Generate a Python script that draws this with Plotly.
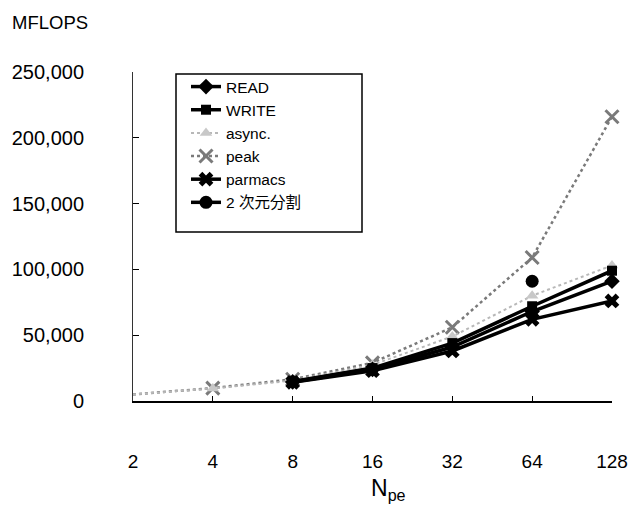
import plotly.graph_objects as go

n_pe = [2, 4, 8, 16, 32, 64, 128]
n_pe_partial = [8, 16, 32, 64, 128]

read_vals = [14500, 24000, 41000, 68000, 91000]
write_vals = [14800, 25000, 44000, 72000, 99000]
async_vals = [5000, 9500, 15500, 27500, 49000, 80000, 103000]
peak_vals = [5000, 9800, 16500, 29000, 56000, 109000, 216000]
parmacs_vals = [14200, 23000, 38000, 62000, 76000]
split2d_x = [64]
split2d_vals = [91000]

y_ticks = [0, 50000, 100000, 150000, 200000, 250000]

fig = go.Figure()

fig.add_trace(go.Scatter(
    x=n_pe, y=peak_vals, name="peak", mode="lines+markers",
    line=dict(color="#7a7a7a", width=2.5, dash="dot"),
    marker=dict(symbol="x-thin-open", size=13, line=dict(color="#6a6a6a", width=3)),
    cliponaxis=False))
fig.add_trace(go.Scatter(
    x=n_pe, y=async_vals, name="async.", mode="lines+markers",
    line=dict(color="#b8b8b8", width=2, dash="dot"),
    marker=dict(symbol="triangle-up", size=11, color="#c8c8c8"),
    cliponaxis=False))
fig.add_trace(go.Scatter(
    x=n_pe_partial, y=read_vals, name="READ", mode="lines+markers",
    line=dict(color="black", width=3.5),
    marker=dict(symbol="diamond", size=12, color="black"),
    cliponaxis=False))
fig.add_trace(go.Scatter(
    x=n_pe_partial, y=write_vals, name="WRITE", mode="lines+markers",
    line=dict(color="black", width=3.5),
    marker=dict(symbol="square", size=10, color="black"),
    cliponaxis=False))
fig.add_trace(go.Scatter(
    x=n_pe_partial, y=parmacs_vals, name="parmacs", mode="lines+markers",
    line=dict(color="black", width=3.5),
    marker=dict(symbol="x", size=13, color="black"),
    cliponaxis=False))
fig.add_trace(go.Scatter(
    x=split2d_x, y=split2d_vals, name="2 次元分割", mode="lines+markers",
    line=dict(color="black", width=3.5),
    marker=dict(symbol="circle", size=13, color="black"),
    cliponaxis=False))

order = ["READ", "WRITE", "async.", "peak", "parmacs", "2 次元分割"]
for tr in fig.data:
    tr.legendrank = order.index(tr.name) + 1

font_main = "Liberation Sans, Arial, Noto Sans CJK JP, sans-serif"

# page body has an 8px margin: figure is 621x502, offset by 8px (fits 637x518)
W, H = 621, 502
L = 133 - 8
T = 72 - 8
R = W - (612 - 8)
B = H - (401 - 8)
pw = W - L - R
ph = H - T - B


def px(xv):
    return (xv - 8 - L) / pw


def py(yv):
    return (H - B - (yv - 8)) / ph


fig.update_layout(
    width=W, height=H,
    margin=dict(l=L, r=R, t=T, b=B, autoexpand=False),
    paper_bgcolor="white", plot_bgcolor="white",
    font=dict(family=font_main, size=20, color="black"),
    showlegend=True,
    legend=dict(
        x=px(186), y=py(70), xanchor="left", yanchor="top",
        bgcolor="rgba(0,0,0,0)", borderwidth=0,
        font=dict(family="Liberation Sans, Noto Sans CJK JP, sans-serif", size=15.5),
        tracegroupgap=0, itemwidth=30,
    ),
    xaxis=dict(
        type="log", tickvals=n_pe, ticktext=[str(v) for v in n_pe],
        range=[0.30103, 2.1073], automargin=False,
        showline=True, linecolor="black", linewidth=1.5,
        ticks="inside", ticklen=5, tickcolor="black",
        showgrid=False, zeroline=False,
        tickfont=dict(size=19),
        ticklabelstandoff=42, ticklabeloverflow="allow",
    ),
    yaxis=dict(
        range=[0, 250000], tickvals=y_ticks, tickformat=",d",
        automargin=False,
        showline=True, linecolor="#333333", linewidth=1,
        ticks="inside", ticklen=6, tickcolor="black",
        showgrid=False, zeroline=False,
        ticklabelstandoff=44, ticklabeloverflow="allow",
    ),
    shapes=[dict(
        type="rect", xref="paper", yref="paper", layer="below",
        x0=px(176), x1=px(362), y0=py(232), y1=py(74),
        line=dict(color="black", width=1.5), fillcolor="white")],
    annotations=[
        dict(text="MFLOPS", xref="paper", yref="paper", x=px(10), y=py(22),
             xanchor="left", yanchor="middle", showarrow=False,
             font=dict(size=18.5)),
        dict(text="N<sub>pe</sub>", xref="paper", yref="paper", x=px(388), y=py(490),
             xanchor="center", yanchor="middle", showarrow=False,
             font=dict(size=23)),
    ],
)

fig.write_html("out.html")
